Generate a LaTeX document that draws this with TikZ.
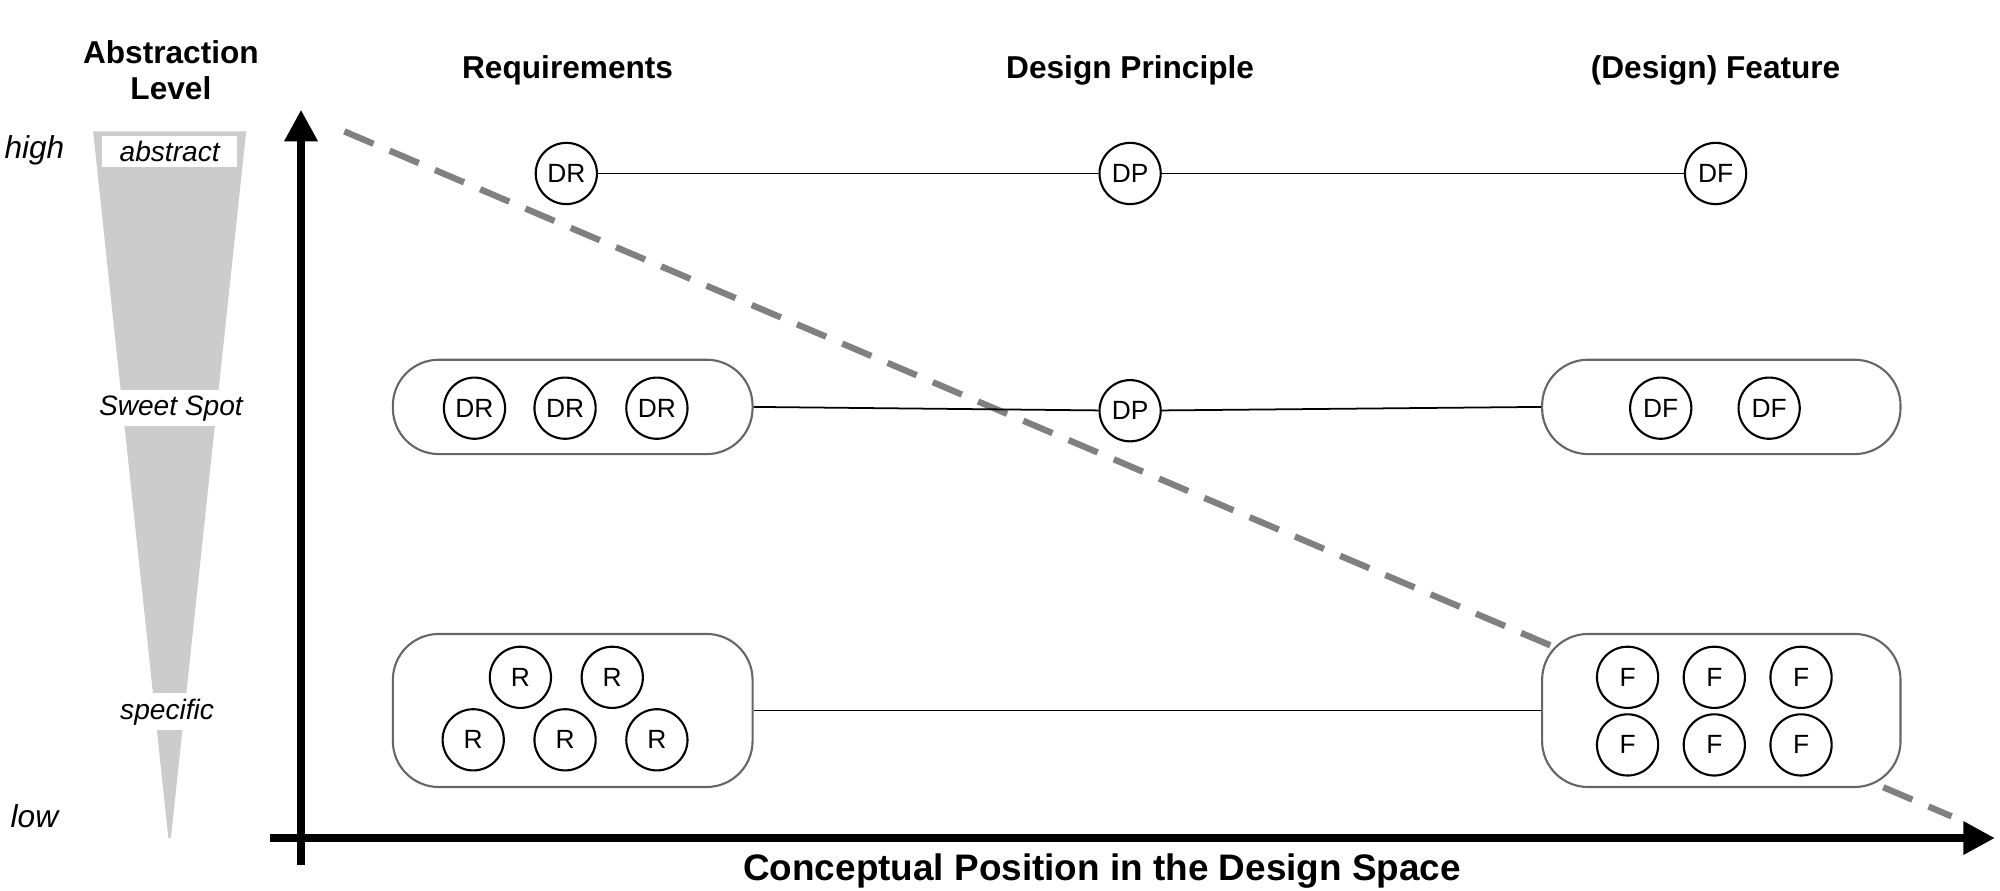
\documentclass[tikz,border=0pt]{standalone}
\usepackage{fontspec}
\setmainfont{Liberation Sans}
\usetikzlibrary{arrows.meta}
\begin{document}
\begin{tikzpicture}[x=0.012755cm,y=-0.012755cm,
  c/.style={circle,draw,line width=0.6pt,minimum size=48*0.012755cm,inner sep=0pt,font=\fontsize{7.5}{8}\selectfont},
  grp/.style={draw=black!60,line width=0.6pt,rounded corners=36*0.012755cm},
  hdr/.style={font=\bfseries\fontsize{9}{10.5}\selectfont,align=center},
  lvl/.style={font=\itshape\fontsize{9}{10}\selectfont},
  tag/.style={font=\itshape\fontsize{8}{9}\selectfont,fill=white,inner sep=1.5pt},
  ln/.style={line width=0.5pt},
  axis/.style={line width=2.2pt,-{Triangle[length=9pt,width=9pt]}}]
\useasboundingbox (0,0) rectangle (1568,697.8);
% funnel
\fill[black!20] (73,103) -- (193,103) -- (134,657) -- (132,657) -- cycle;
\node[tag,minimum width=106*0.012755cm,minimum height=22*0.012755cm] (abs) at (133,119) {abstract};
\node[tag] (ss) at (134,320) {Sweet Spot};
\node[tag] (sp) at (131,558) {specific};
\node[hdr] (al) at (134,55) {Abstraction\\Level};
\node[lvl] (hi) at (27,118) {high};
\node[lvl] (lo) at (27,640) {low};
% axes
\coordinate (ya) at (236,678); \coordinate (yb) at (236,86);
\coordinate (xa) at (212,657); \coordinate (xb) at (1564,657);
\draw[axis] (ya) -- (yb);
\draw[axis] (xa) -- (xb);
\node[hdr] (xl) at (864,683) {\fontsize{10.5}{12}\selectfont Conceptual Position in the Design Space};
\node[hdr] (h1) at (445,55) {Requirements};
\node[hdr] (h2) at (886,55) {Design Principle};
\node[hdr] (h3) at (1345,55) {(Design) Feature};
% dashed
\coordinate (d1) at (270,103); \coordinate (d2) at (1530,640);
\draw[black!50,line width=1.8pt,dash pattern=on 9pt off 5pt] (d1) -- (d2);
% row 1
\node[c,fill=white] (dr) at (444,136) {DR};
\node[c,fill=white] (dp) at (886,136) {DP};
\node[c,fill=white] (df) at (1345,136) {DF};
\draw[ln] (dr) -- (dp) -- (df);
% row 2
\node[grp,fill=white,minimum width=282*0.012755cm,minimum height=74*0.012755cm] (g1) at (449,319) {};
\node[grp,fill=white,minimum width=281*0.012755cm,minimum height=74*0.012755cm] (g2) at (1349.5,319) {};
\node[c] (a1) at (372,320) {DR};
\node[c] (a2) at (443,320) {DR};
\node[c] (a3) at (515,320) {DR};
\node[c,fill=white] (dp2) at (886,322) {DP};
\node[c] (b1) at (1302,320) {DF};
\node[c] (b2) at (1387,320) {DF};
\draw[ln] (g1.east) -- (dp2) -- (g2.west);
% row 3
\node[grp,minimum width=282*0.012755cm,minimum height=120*0.012755cm] (g3) at (449,557) {};
\node[grp,fill=white,minimum width=281*0.012755cm,minimum height=120*0.012755cm] (g4) at (1349.5,557) {};
\foreach \n/\x/\y in {r1/408/531,r2/480/531,r3/371/580,r4/443/580,r5/515/580}
  \node[c] (\n) at (\x,\y) {R};
\foreach \n/\x/\y in {f1/1276/531,f2/1344/531,f3/1412/531,f4/1276/584,f5/1344/584,f6/1412/584}
  \node[c] (\n) at (\x,\y) {F};
\draw[ln] (g3.east) -- (g4.west);
\end{tikzpicture}
\end{document}
